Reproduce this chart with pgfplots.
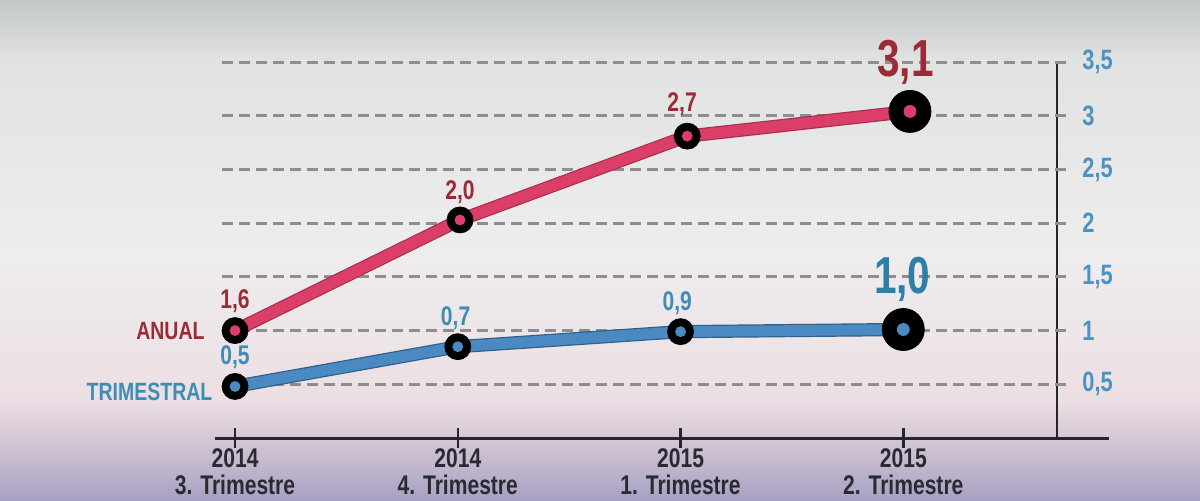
\documentclass[border=0pt]{standalone}
\usepackage{fontspec}
\setmainfont{Liberation Sans}[FakeStretch=0.78]
\usepackage{pgfplots}
\pgfplotsset{compat=1.18}
\definecolor{anualline}{HTML}{DB3F69}
\definecolor{anualedge}{HTML}{A8304F}
\definecolor{anualtext}{HTML}{9B2B35}
\definecolor{trimline}{HTML}{4A89C2}
\definecolor{trimedge}{HTML}{2F5F88}
\definecolor{trimtext}{HTML}{3F8CB4}
\definecolor{trimbig}{HTML}{2C7FA5}
\definecolor{ticktext}{HTML}{4B93C4}
\definecolor{yeartext}{HTML}{2A2A33}
\definecolor{gridc}{HTML}{8E8E8E}
\definecolor{bg0}{HTML}{A6A0C2}
\definecolor{bg1}{HTML}{C6BACE}
\definecolor{bg2}{HTML}{ECDFE4}
\definecolor{bg3}{HTML}{EEEDED}
\definecolor{bg4}{HTML}{E1E2E2}
\definecolor{bg5}{HTML}{C4C8C8}
\pgfdeclareverticalshading{bgshade}{100bp}{color(0bp)=(bg0); color(25bp)=(bg0); color(29bp)=(bg1); color(35bp)=(bg2); color(50bp)=(bg3); color(69bp)=(bg4); color(75bp)=(bg5); color(100bp)=(bg5)}
\begin{document}
\begin{tikzpicture}
\shade[shading=bgshade] (0,0) rectangle (600pt,250pt);
\begin{axis}[
  at={(107.5pt,31pt)}, anchor=south west,
  scale only axis, width=421pt, height=188pt,
  xmin=-0.09, xmax=3.69, ymin=0, ymax=3.5,
  axis x line*=bottom, axis y line*=right,
  x axis line style={line width=1.5pt, color=black!85},
  y axis line style={line width=1pt, color=black!85},
  xtick={0,1,2,3},
  xticklabels={{2014\\3. Trimestre},{2014\\4. Trimestre},{2015\\1. Trimestre},{2015\\2. Trimestre}},
  xticklabel style={align=center, font=\bfseries\fontsize{13.5}{13.5}\selectfont, text=yeartext, inner sep=0pt, anchor=north, yshift=0pt},
  x tick style={line width=1.2pt, color=black!85},
  tick align=center, major tick length=10pt,
  ytick={0.5,1,1.5,2,2.5,3,3.5},
  y tick style={draw=none},
  yticklabel style={font=\bfseries\fontsize{14}{14}\selectfont, text=ticktext, anchor=west, inner sep=0pt, xshift=7.5pt},
  clip=false,
  /pgf/number format/use comma,
  /pgf/number format/assume math mode=true,
]
\pgfplotsinvokeforeach{0.5,1,1.5,2,2.5,3,3.5}{
  \draw[gridc, line width=1.5pt, dash pattern=on 5.5pt off 3pt] (axis cs:-0.058,#1) -- (axis cs:3.736,#1);
}
\draw[line width=1.5pt, black!85] (axis cs:3.69,0) -- (axis cs:3.925,0);
% lines
\addplot[line width=6.6pt, trimedge] coordinates {(0,0.48) (1,0.85) (2,0.99) (3,1.01)};
\addplot[line width=5.4pt, trimline] coordinates {(0,0.48) (1,0.85) (2,0.99) (3,1.01)};
\addplot[line width=6.6pt, anualedge] coordinates {(0,1.0) (1.01,2.03) (2.03,2.81) (3.03,3.04)};
\addplot[line width=5.4pt, anualline] coordinates {(0,1.0) (1.01,2.03) (2.03,2.81) (3.03,3.04)};
% value labels
\begin{scope}[font=\bfseries\fontsize{13.5}{13.5}\selectfont]
\node[text=anualtext] at (axis cs:0,1.275) {1,6};
\node[text=anualtext] at (axis cs:1.01,2.29) {2,0};
\node[text=anualtext] at (axis cs:2.007,3.11) {2,7};
\node[text=trimtext] at (axis cs:0,0.754) {0,5};
\node[text=trimtext] at (axis cs:0.99,1.117) {0,7};
\node[text=trimtext] at (axis cs:1.985,1.257) {0,9};
\end{scope}
\begin{scope}[font=\bfseries\fontsize{12.5}{12.5}\selectfont]
\node[text=anualtext, anchor=east, inner sep=0pt] at (axis cs:-0.135,1.0) {ANUAL};
\node[text=trimtext, anchor=east, inner sep=0pt] at (axis cs:-0.1,0.43) {TRIMESTRAL};
\end{scope}
\node[text=anualtext, font=\bfseries\fontsize{26}{26}\selectfont] at (axis cs:3.01,3.5) {3,1};
\node[text=trimbig, font=\bfseries\fontsize{26}{26}\selectfont] at (axis cs:2.995,1.48) {1,0};
% markers
\addplot[only marks, mark=*, mark size=6.5pt, mark options={draw=black, fill=black}] coordinates {(0,1.0) (1.01,2.03) (2.03,2.81)};
\addplot[only marks, mark=*, mark size=6.5pt, mark options={draw=black, fill=black}] coordinates {(0,0.48) (1,0.85) (2,0.99)};
\addplot[only marks, mark=*, mark size=10.5pt, mark options={draw=black, fill=black}] coordinates {(3.03,3.04)};
\addplot[only marks, mark=*, mark size=10.5pt, mark options={draw=black, fill=black}] coordinates {(3,1.01)};
\addplot[only marks, mark=*, mark size=2.5pt, mark options={draw=anualline, fill=anualline}] coordinates {(0,1.0) (1.01,2.03) (2.03,2.81)};
\addplot[only marks, mark=*, mark size=2.5pt, mark options={draw=trimline, fill=trimline}] coordinates {(0,0.48) (1,0.85) (2,0.99)};
\addplot[only marks, mark=*, mark size=3pt, mark options={draw=anualline, fill=anualline}] coordinates {(3.03,3.04)};
\addplot[only marks, mark=*, mark size=3pt, mark options={draw=trimline, fill=trimline}] coordinates {(3,1.01)};
\end{axis}
\pgfresetboundingbox
\path[use as bounding box] (0,0) rectangle (600pt,250pt);
\end{tikzpicture}
\end{document}
